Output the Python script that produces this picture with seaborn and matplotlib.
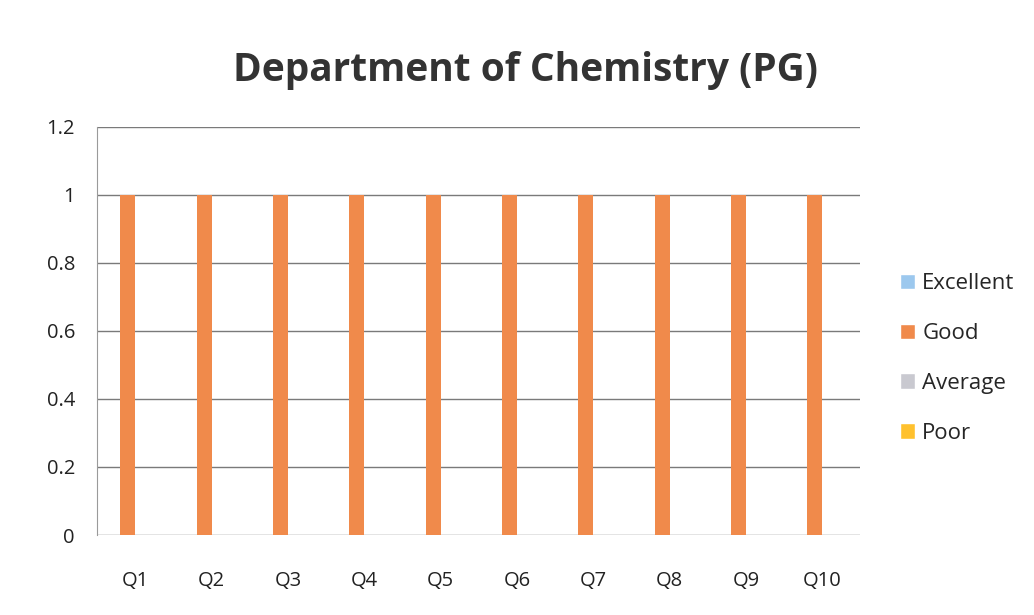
import matplotlib
matplotlib.use("Agg")
import matplotlib.pyplot as plt
import seaborn as sns
import pandas as pd
from matplotlib.patches import Patch
from matplotlib.ticker import FuncFormatter

questions = ["Q1", "Q2", "Q3", "Q4", "Q5", "Q6", "Q7", "Q8", "Q9", "Q10"]
excellent = [0, 0, 0, 0, 0, 0, 0, 0, 0, 0]
good = [1, 1, 1, 1, 1, 1, 1, 1, 1, 1]
average = [0, 0, 0, 0, 0, 0, 0, 0, 0, 0]
poor = [0, 0, 0, 0, 0, 0, 0, 0, 0, 0]
ratings = ["Excellent", "Good", "Average", "Poor"]
colors = ["#9cc8ee", "#f08a4b", "#c9c9d0", "#ffc12e"]

rows = []
for name, vals in zip(ratings, [excellent, good, average, poor]):
    for q, v in zip(questions, vals):
        rows.append({"Question": q, "Rating": name, "Value": v})
df = pd.DataFrame(rows)

sns.set_style("white")
plt.rcParams["font.family"] = ["Open Sans", "DejaVu Sans"]

fig = plt.figure(figsize=(10.34, 6.15), dpi=100)
ax = fig.add_axes([0.094, 0.130, 0.738, 0.664])

sns.barplot(data=df, x="Question", y="Value", hue="Rating", hue_order=ratings,
            palette=colors, width=0.78, ax=ax, legend=False, saturation=1,
            linewidth=0)

ax.set_ylim(0, 1.2)
ax.set_yticks([0, 0.2, 0.4, 0.6, 0.8, 1.0, 1.2])
ax.yaxis.set_major_formatter(FuncFormatter(lambda v, p: f"{v:g}"))
ax.grid(axis="y", color="#7a7a7a", linewidth=1)
ax.set_axisbelow(True)
ax.set_xlabel("")
ax.set_ylabel("")
for s in ["top", "right", "bottom"]:
    ax.spines[s].set_visible(False)
ax.spines["left"].set_color("#9a9a9a")
ax.spines["left"].set_linewidth(0.8)
ax.tick_params(axis="both", length=0, labelsize=14.5, colors="#222222")
ax.tick_params(axis="y", pad=16)
ax.tick_params(axis="x", pad=26)

fig.suptitle("Department of Chemistry (PG)", x=0.508, y=0.917, fontsize=28,
             fontweight="bold", color="#333333")

handles = [Patch(facecolor=c, label=r) for c, r in zip(colors, ratings)]
fig.legend(handles=handles, loc="center left", bbox_to_anchor=(0.851, 0.417),
           frameon=False, fontsize=16, handlelength=0.7, handleheight=0.7,
           handletextpad=0.3, labelspacing=1.3)

fig.savefig("out.png", dpi=100, facecolor="white")
